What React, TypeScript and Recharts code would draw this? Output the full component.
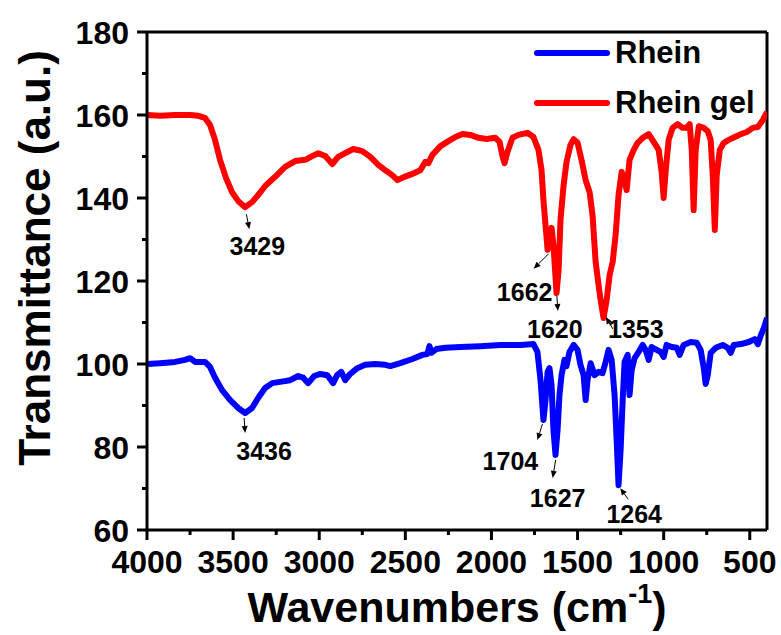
import { LineChart, Line, XAxis, YAxis, ReferenceLine, ReferenceDot, Legend, Label } from 'recharts'

const FONT = '"Liberation Sans", Arial, sans-serif'

// Rhein gel (red) spectrum: wavenumber (cm-1) / transmittance
const gelWave = [
  4000, 3924, 3837, 3750, 3703, 3663, 3634, 3605, 3576, 3541, 3506, 3471, 3430, 3390, 3355, 3314,
  3256, 3198, 3140, 3081, 3041, 3006, 2965, 2924, 2890, 2849, 2802, 2750, 2703, 2657, 2610, 2576,
  2546, 2506, 2459, 2413, 2384, 2366, 2343, 2296, 2250, 2209, 2169, 2122, 2076, 2029, 1977, 1953,
  1936, 1924, 1907, 1878, 1843, 1791, 1756, 1727, 1709, 1698, 1686, 1674, 1663, 1651, 1640, 1622,
  1610, 1599, 1581, 1564, 1541, 1523, 1500, 1477, 1453, 1430, 1413, 1395, 1378, 1366, 1349, 1331,
  1314, 1296, 1279, 1262, 1244, 1227, 1215, 1198, 1174, 1151, 1122, 1087, 1058, 1029, 1012, 1000,
  988, 971, 948, 919, 890, 866, 849, 837, 826, 814, 796, 767, 744, 727, 715, 703, 692, 674, 651,
  622, 587, 552, 517, 483, 453, 424, 400,
]
const gelT = [
  160.0, 159.8, 160.0, 160.0, 159.8, 159.3, 157.6, 154.0, 149.2, 144.8, 141.4, 139.3, 137.8, 139.0, 140.7, 142.9,
  145.1, 147.5, 148.9, 149.2, 150.1, 150.8, 150.1, 148.2, 149.9, 150.8, 151.8, 151.3, 149.9, 148.0, 146.5, 145.5,
  144.3, 145.1, 145.8, 146.7, 148.7, 148.4, 150.4, 152.5, 153.7, 154.7, 155.4, 155.2, 154.5, 154.2, 154.5, 153.5,
  150.1, 148.4, 151.1, 154.5, 155.2, 155.7, 154.7, 151.6, 146.7, 139.5, 133.5, 127.5, 129.9, 132.8, 128.7, 117.1,
  122.6, 134.7, 143.1, 148.7, 152.8, 154.2, 153.3, 149.2, 144.3, 141.4, 135.9, 124.6, 119.0, 115.4, 111.1, 115.4,
  121.4, 124.6, 131.1, 140.7, 146.3, 144.3, 141.9, 149.2, 151.6, 153.3, 154.5, 155.4, 153.5, 151.6, 146.3, 140.0,
  146.7, 154.0, 156.9, 157.8, 156.9, 156.9, 157.8, 151.6, 137.1, 151.6, 157.3, 156.9, 156.1, 154.0, 145.5, 132.3, 145.5, 151.6, 153.3,
  154.0, 154.7, 155.4, 155.9, 156.9, 157.1, 158.8, 160.7,
]

// Rhein (blue) spectrum
const rheinWave = [
  4000, 3924, 3837, 3779, 3750, 3721, 3663, 3634, 3605, 3564, 3517, 3471, 3430, 3390, 3355, 3314,
  3273, 3227, 3169, 3122, 3093, 3064, 3029, 2994, 2953, 2919, 2896, 2872, 2849, 2820, 2779, 2733,
  2674, 2616, 2587, 2529, 2459, 2401, 2372, 2360, 2349, 2320, 2267, 2180, 2064, 1948, 1831, 1756,
  1733, 1715, 1698, 1686, 1674, 1663, 1651, 1640, 1628, 1616, 1605, 1593, 1576, 1564, 1547, 1523,
  1500, 1483, 1465, 1453, 1442, 1424, 1401, 1378, 1355, 1337, 1320, 1302, 1285, 1273, 1262, 1250,
  1238, 1227, 1209, 1198, 1186, 1169, 1145, 1122, 1105, 1087, 1070, 1041, 1017, 1000, 983, 953,
  924, 907, 884, 843, 808, 785, 767, 756, 744, 727, 698, 657, 628, 610, 593, 552, 506, 471, 453,
  436, 418, 400,
]
const rheinT = [
  100.0, 100.2, 100.5, 101.0, 101.4, 100.5, 100.5, 99.3, 96.7, 93.7, 91.3, 89.4, 88.2, 89.4, 91.8, 94.2,
  95.4, 95.7, 96.1, 97.1, 96.7, 95.4, 97.1, 97.6, 97.3, 95.4, 97.3, 98.1, 96.1, 97.6, 99.0, 99.8,
  100.0, 99.8, 99.5, 100.2, 101.2, 102.2, 102.4, 104.3, 102.7, 103.6, 103.9, 104.1, 104.3, 104.6, 104.6, 104.8,
  102.9, 96.1, 86.5, 91.3, 98.1, 99.0, 94.9, 84.1, 78.1, 84.1, 92.5, 97.3, 101.0, 99.5, 102.9, 104.6,
  103.4, 99.8, 97.3, 91.3, 96.1, 100.2, 97.3, 98.1, 97.8, 100.5, 103.4, 101.0, 92.5, 81.7, 70.8, 79.3,
  91.3, 100.5, 102.2, 92.5, 98.5, 101.4, 102.9, 104.6, 103.4, 101.0, 104.1, 103.4, 102.9, 101.7, 104.6, 104.1,
  103.9, 102.2, 104.6, 105.3, 105.1, 103.4, 99.0, 95.2, 97.3, 102.7, 103.9, 104.6, 103.9, 102.7, 104.6, 104.8, 105.3, 106.0, 104.8,
  106.9, 108.7, 111.1,
]

const xTicks = [4000, 3750, 3500, 3250, 3000, 2750, 2500, 2250, 2000, 1750, 1500, 1250, 1000, 750, 500]
const yTicks = [60, 70, 80, 90, 100, 110, 120, 130, 140, 150, 160, 170, 180]

// marked peaks: label, wavenumber, transmittance
const peakLabels = ['3429', '1662', '1620', '1353', '3436', '1704', '1627', '1264']
const peakWave = [3429, 1662, 1620, 1353, 3436, 1704, 1627, 1264]
const peakT = [137.8, 127.3, 117.1, 111.1, 88.2, 86.5, 78.1, 70.8]

// arrow start/end and text offsets from the peak point (px)
const peakLayout: Record<string, { a: number[]; t: number[] }> = {
  '3429': { a: [1, 7, 4, 22], t: [12, 48] },
  '1662': { a: [-1, 3, -16, 18], t: [-25, 50] },
  '1620': { a: [0, 3, 1, 18], t: [-2, 45] },
  '1353': { a: [10, 11, 3, -1], t: [33, 20] },
  '3436': { a: [0, 5, 1, 20], t: [20, 47] },
  '1704': { a: [0, 4, -5, 20], t: [-32, 50] },
  '1627': { a: [0, 5, -3, 23], t: [2, 52] },
  '1264': { a: [10, 14, 2, 3], t: [16, 38] },
}

const gelData = gelWave.map((w, i) => ({ w, t: gelT[i] }))
const rheinData = rheinWave.map((w, i) => ({ w, t: rheinT[i] }))

function XTick(props: any) {
  const { x, y, payload } = props
  const major = payload.value % 500 === 0
  return (
    <g>
      <line x1={x} y1={y} x2={x} y2={y + (major ? 10 : 5)} stroke="#000" strokeWidth={3} />
      {major && (
        <text x={x} y={y + 43} textAnchor="middle" fontFamily={FONT} fontWeight="bold" fontSize={32} fill="#000">
          {payload.value}
        </text>
      )}
    </g>
  )
}

function YTick(props: any) {
  const { x, y, payload } = props
  const major = payload.value % 20 === 0
  return (
    <g>
      <line x1={x} y1={y} x2={x - (major ? 10 : 5)} y2={y} stroke="#000" strokeWidth={3} />
      {major && (
        <text x={x - 18} y={y} dy="0.36em" textAnchor="end" fontFamily={FONT} fontWeight="bold" fontSize={32} fill="#000">
          {payload.value}
        </text>
      )}
    </g>
  )
}

function PeakMark({ cx, cy, label }: any) {
  const { a, t } = peakLayout[label]
  const x1 = cx + a[0], y1 = cy + a[1], x2 = cx + a[2], y2 = cy + a[3]
  const len = Math.hypot(x2 - x1, y2 - y1) || 1
  const ux = (x2 - x1) / len, uy = (y2 - y1) / len
  const hl = 7, hw = 3
  const bx = x2 - ux * hl, by = y2 - uy * hl
  const head = `${x2},${y2} ${bx - uy * hw},${by + ux * hw} ${bx + uy * hw},${by - ux * hw}`
  return (
    <g>
      <line x1={x1} y1={y1} x2={bx} y2={by} stroke="#000" strokeWidth={1} />
      <polygon points={head} fill="#000" />
      <text x={cx + t[0]} y={cy + t[1]} textAnchor="middle" fontFamily={FONT} fontWeight="bold" fontSize={25} fill="#000">
        {label}
      </text>
    </g>
  )
}

function LegendBox(props: any) {
  const items = props.payload || []
  return (
    <div style={{ fontFamily: FONT }}>
      {items.map((it: any) => (
        <div key={it.value} style={{ display: 'flex', alignItems: 'center', height: 50 }}>
          <svg width={76} height={10}>
            <line x1={3} y1={5} x2={73} y2={5} stroke={it.color} strokeWidth={6} strokeLinecap="round" />
          </svg>
          <span style={{ marginLeft: 5, fontSize: 31, fontWeight: 'bold', color: '#000', lineHeight: '50px' }}>{it.value}</span>
        </div>
      ))}
    </div>
  )
}

export default function App() {
  return (
    <div style={{ position: 'absolute', left: 0, top: 0, background: '#fff' }}>
      <LineChart width={781} height={635} margin={{ top: 32, right: 14, left: 0, bottom: 0 }}>
        <XAxis
          type="number"
          dataKey="w"
          domain={[400, 4000]}
          reversed
          ticks={xTicks}
          interval={0}
          tick={<XTick />}
          tickLine={false}
          tickSize={0}
          tickMargin={0}
          height={105}
          axisLine={{ stroke: '#000', strokeWidth: 3 }}
          allowDataOverflow
        >
          <Label
            content={() => (
              <text x={457} y={622} textAnchor="middle" fontFamily={FONT} fontWeight="bold" fontSize={43} fill="#000">
                Wavenumbers (cm
                <tspan fontSize={27} dy={-19}>-1</tspan>
                <tspan dy={19}>)</tspan>
              </text>
            )}
          />
        </XAxis>
        <YAxis
          type="number"
          dataKey="t"
          domain={[60, 180]}
          ticks={yTicks}
          interval={0}
          tick={<YTick />}
          tickLine={false}
          tickSize={0}
          tickMargin={0}
          width={147}
          axisLine={{ stroke: '#000', strokeWidth: 3 }}
          allowDataOverflow
        >
          <Label
            content={() => (
              <text
                x={50}
                y={258}
                transform="rotate(-90 50 258)"
                textAnchor="middle"
                fontFamily={FONT}
                fontWeight="bold"
                fontSize={44}
                fill="#000"
              >
                Transmittance (a.u.)
              </text>
            )}
          />
        </YAxis>
        <ReferenceLine y={180} stroke="#000" strokeWidth={3} />
        <ReferenceLine x={400} stroke="#000" strokeWidth={3} />
        <Line
          data={rheinData}
          dataKey="t"
          name="Rhein"
          stroke="#0000ff"
          strokeWidth={6}
          strokeLinejoin="round"
          dot={false}
          isAnimationActive={false}
        />
        <Line
          data={gelData}
          dataKey="t"
          name="Rhein gel"
          stroke="#ff0000"
          strokeWidth={6}
          strokeLinejoin="round"
          dot={false}
          isAnimationActive={false}
        />
        {peakLabels.map((lab, i) => (
          <ReferenceDot
            key={lab}
            x={peakWave[i]}
            y={peakT[i]}
            r={0}
            ifOverflow="visible"
            shape={(p: any) => <PeakMark cx={p.cx} cy={p.cy} label={lab} />}
          />
        ))}
        <Legend
          layout="vertical"
          align="center"
          verticalAlign="middle"
          content={<LegendBox />}
          wrapperStyle={{ top: 28, left: 534, width: 240, height: 100 }}
        />
      </LineChart>
    </div>
  )
}
